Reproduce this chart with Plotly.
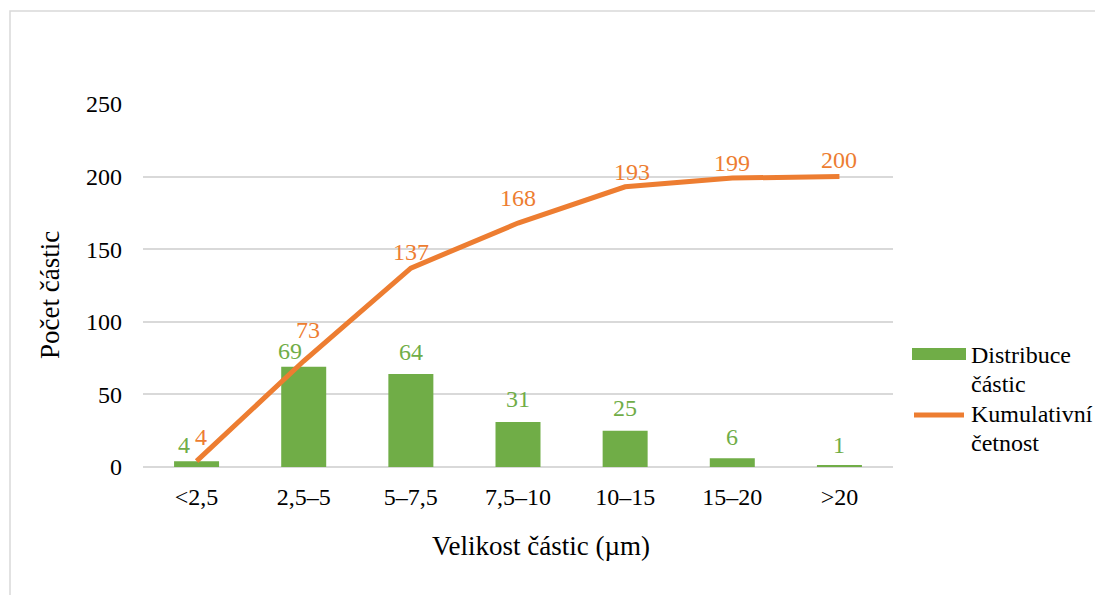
import plotly.graph_objects as go

# Particle size classes and counts
categories = ["<2,5", "2,5–5", "5–7,5", "7,5–10", "10–15", "15–20", ">20"]
distribution = [4, 69, 64, 31, 25, 6, 1]
cumulative = [4, 73, 137, 168, 193, 199, 200]
series_names = ["Distribuce částic", "Kumulativní četnost"]
x_title = "Velikost částic (µm)"
y_title = "Počet částic"

GREEN = "#70AD47"
ORANGE = "#ED7D31"
FONT = "Liberation Serif"
SIZE = 24
TITLE_SIZE = 27

# Label offsets (pixels) relative to the mark, to keep labels from overlapping
bar_label_dx = [-13, -14, 0, 0, 0, 0, 0]
bar_label_dy = [16, 16, 22, 23, 23, 21, 21]
line_label_dx = [4, 4, 0, 0, 7, 0, 0]
line_label_dy = [24, 31, 16, 25, 15, 15, 17]

# Plot area in pixels, used to place titles and legend in paper coordinates
L, R, T, B = 143, 893, 104, 467


def px(x):
    return (x - L) / (R - L)


def py(y):
    return (B - y) / (B - T)


fig = go.Figure()
fig.add_trace(go.Bar(
    x=categories, y=distribution, name=series_names[0],
    marker=dict(color=GREEN, line=dict(width=0)), width=0.42, showlegend=False,
))
fig.add_trace(go.Scatter(
    x=categories, y=cumulative, name=series_names[1],
    mode="lines", line=dict(color=ORANGE, width=5), showlegend=False,
))

for i, c in enumerate(categories):
    fig.add_annotation(x=c, y=distribution[i], text=str(distribution[i]),
                       showarrow=False, xshift=bar_label_dx[i], yshift=bar_label_dy[i],
                       font=dict(family=FONT, size=SIZE, color=GREEN))
    fig.add_annotation(x=c, y=cumulative[i], text=str(cumulative[i]),
                       showarrow=False, xshift=line_label_dx[i], yshift=line_label_dy[i],
                       font=dict(family=FONT, size=SIZE, color=ORANGE))

# Axis titles
fig.add_annotation(xref="paper", yref="paper", x=px(541), y=py(546),
                   xanchor="center", yanchor="middle", text=x_title, showarrow=False,
                   font=dict(family=FONT, size=TITLE_SIZE, color="black"))
fig.add_annotation(xref="paper", yref="paper", x=px(50), y=py(295),
                   xanchor="center", yanchor="middle", text=y_title, showarrow=False,
                   textangle=-90, font=dict(family=FONT, size=TITLE_SIZE, color="black"))

# Legend: wide colour keys with series names wrapped onto two lines
fig.add_shape(type="rect", xref="paper", yref="paper",
              x0=px(912), x1=px(966), y0=py(360), y1=py(348),
              line=dict(width=0), fillcolor=GREEN)
fig.add_shape(type="line", xref="paper", yref="paper",
              x0=px(914), x1=px(964), y0=py(415), y1=py(415),
              line=dict(color=ORANGE, width=5))
legend_lines = [w for name in series_names for w in name.split(" ")]
for word, y_center in zip(legend_lines, [355, 384, 414, 443]):
    fig.add_annotation(xref="paper", yref="paper", x=px(969), y=py(y_center),
                       xanchor="left", yanchor="middle", align="left",
                       text=word, showarrow=False,
                       font=dict(family=FONT, size=SIZE, color="black"))

# Light chart frame
fig.add_shape(type="rect", xref="paper", yref="paper",
              x0=px(10), x1=1.4, y0=-0.5, y1=py(11),
              line=dict(color="#d9d9d9", width=1.5), fillcolor="rgba(0,0,0,0)")

fig.update_layout(
    width=1095, height=595,
    margin=dict(l=L, r=1095 - R, t=T, b=595 - B),
    paper_bgcolor="white", plot_bgcolor="white",
    font=dict(family=FONT, size=SIZE, color="black"),
    showlegend=False,
    xaxis=dict(showgrid=False, showline=False, ticks="", ticklabelstandoff=13,
               tickfont=dict(family=FONT, size=SIZE)),
    yaxis=dict(range=[0, 250], dtick=50, showgrid=True, gridcolor="#d9d9d9",
               gridwidth=1.5, zeroline=True, zerolinecolor="#d9d9d9", zerolinewidth=1.5,
               showline=False, ticks="", ticklabelstandoff=20,
               tickfont=dict(family=FONT, size=SIZE)),
)

fig.write_html("out.html")
